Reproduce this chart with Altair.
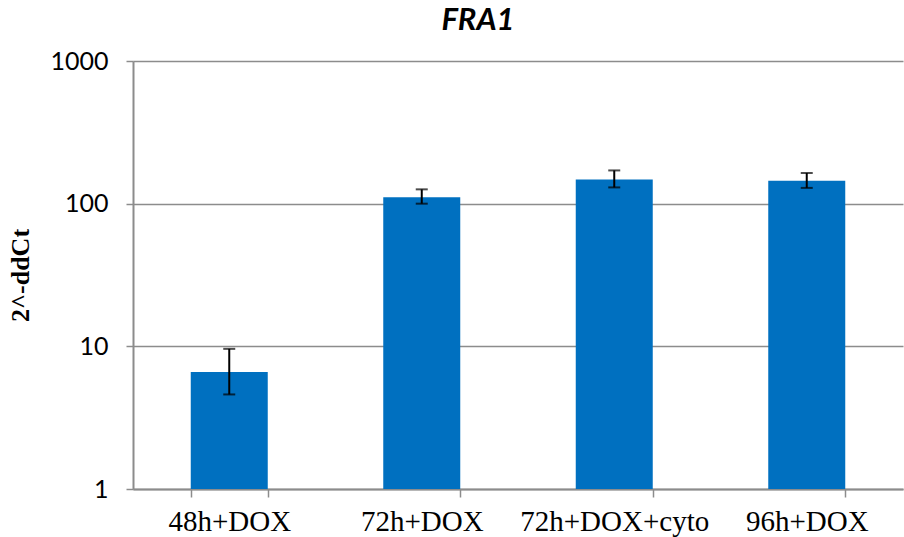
import altair as alt
import pandas as pd

categories = ["48h+DOX", "72h+DOX", "72h+DOX+cyto", "96h+DOX"]
values = [6.6, 111, 148, 145]
err_low = [4.6, 100, 130, 129]
err_high = [9.6, 126, 171, 164]
y_ticks = [1, 10, 100, 1000]

df = pd.DataFrame({"cat": categories, "val": values, "lo": err_low, "hi": err_high})

SERIF = "Liberation Serif"

xs = alt.Scale(paddingInner=0.6, paddingOuter=0.3)
ys = alt.Scale(type="log", domain=[1, 1000])

x_axis = alt.Axis(labelAngle=0, labelFont=SERIF, labelFontSize=29, labelLimit=0,
                  labelPadding=10, tickBand="extent", tickSize=8, grid=False)
y_axis = alt.Axis(values=y_ticks, format="d", labelFont="Lato", labelFontSize=25,
                  labelPadding=18, tickSize=7, gridColor="#8c8c8c", gridWidth=1.5,
                  titleFont=SERIF, titleFontSize=26, titleFontWeight="bold",
                  titlePadding=16)

xe = alt.X("cat:N", sort=categories, title=None, scale=xs, axis=x_axis)

bars = alt.Chart(df).mark_bar(color="#0070C0").encode(
    x=xe,
    y=alt.Y("val:Q", scale=ys, title="2^-ddCt", axis=y_axis),
    y2=alt.datum(1),
)

rule = alt.Chart(df).mark_rule(color="black", strokeWidth=2).encode(
    x=xe, y=alt.Y("lo:Q", scale=ys, title="2^-ddCt", axis=y_axis), y2="hi:Q")
cap_lo = alt.Chart(df).mark_tick(color="black", thickness=2, size=12,
                                 orient="horizontal").encode(
    x=xe, y=alt.Y("lo:Q", scale=ys, title="2^-ddCt", axis=y_axis))
cap_hi = alt.Chart(df).mark_tick(color="black", thickness=2, size=12,
                                 orient="horizontal").encode(
    x=xe, y=alt.Y("hi:Q", scale=ys, title="2^-ddCt", axis=y_axis))

chart = alt.layer(bars, rule, cap_lo, cap_hi).properties(
    width=770, height=428,
    padding={"left": 133, "top": 61, "right": 1, "bottom": 48},
    autosize=alt.AutoSizeParams(type="none"),
    title=alt.TitleParams("FRA1", font="Lato", fontSize=31, fontWeight="bold",
                          fontStyle="italic", color="black", anchor="middle",
                          dx=-40, offset=12),
).configure_view(stroke=None).configure_axis(
    domainColor="#8c8c8c", domainWidth=2, tickColor="#8c8c8c", tickWidth=1.5,
    labelColor="black", titleColor="black",
)

chart.save("out.html", embed_options={"renderer": "svg", "actions": False})
